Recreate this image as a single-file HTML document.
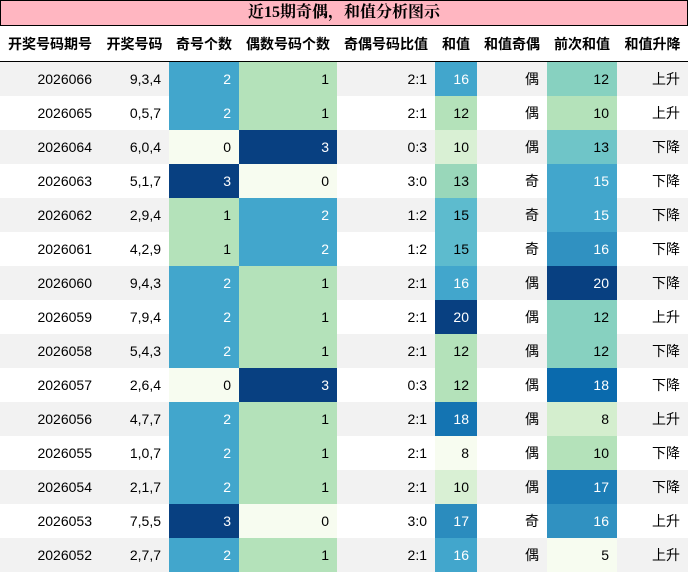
<!DOCTYPE html>
<html><head><meta charset="utf-8">
<style>
body{margin:0;width:688px;height:573px;background:#fff;overflow:hidden;font-family:"Liberation Sans","Noto Sans CJK SC",sans-serif;}
#title{position:absolute;left:0;top:0;width:686px;height:24px;background:#ffb6c1;border:1px solid #000;text-align:center;font:bold 16px "Liberation Serif","Noto Serif CJK SC",serif;line-height:24px;}
.h{position:absolute;top:26px;height:35px;line-height:37px;font-weight:bold;font-size:14px;text-align:center;color:#000}
#hline{position:absolute;left:0;top:61px;width:688px;height:1px;background:#000}
.c{position:absolute;height:34px;line-height:34px;font-size:14px;text-align:right;box-sizing:border-box;padding-right:8px;color:#000}
</style></head><body>
<div id="title">近15期奇偶，和值分析图示</div>
<div id="hline"></div>
<div id="t"></div>
<script>
const periods=["2026066","2026065","2026064","2026063","2026062","2026061","2026060","2026059","2026058","2026057","2026056","2026055","2026054","2026053","2026052"];
const draws=["9,3,4","0,5,7","6,0,4","5,1,7","2,9,4","4,2,9","9,4,3","7,9,4","5,4,3","2,6,4","4,7,7","1,0,7","2,1,7","7,5,5","2,7,7"];
const oddCounts=[2,2,0,3,1,1,2,2,2,0,2,2,2,3,2];
const evenCounts=[1,1,3,0,2,2,1,1,1,3,1,1,1,0,1];
const ratios=["2:1","2:1","0:3","3:0","1:2","1:2","2:1","2:1","2:1","0:3","2:1","2:1","2:1","3:0","2:1"];
const sums=[16,12,10,13,15,15,16,20,12,12,18,8,10,17,16];
const sumParity=["偶","偶","偶","奇","奇","奇","偶","偶","偶","偶","偶","偶","偶","奇","偶"];
const prevSums=[12,10,13,15,15,16,20,12,12,18,8,10,17,16,5];
const trend=["上升","上升","下降","下降","下降","下降","下降","上升","下降","下降","上升","下降","下降","上升","上升"];
const headers=["开奖号码期号","开奖号码","奇号个数","偶数号码个数","奇偶号码比值","和值","和值奇偶","前次和值","和值升降"];
const colX=[0,100,169,239,337,435,477,547,617,688];
const stops=["#f7fcf0","#e0f3db","#ccebc5","#a8ddb5","#7bccc4","#4eb3d3","#2b8cbe","#0868ac","#084081"];
function hex(h){return [1,3,5].map(i=>parseInt(h.substr(i,2),16));}
function gnbu(t){t=Math.max(0,Math.min(1,t));const p=t*8,i=Math.min(7,Math.floor(p)),f=p-i;const a=hex(stops[i]),b=hex(stops[i+1]);return "rgb("+a.map((v,k)=>Math.round(v+(b[k]-v)*f)).join(",")+")";}
const t=document.getElementById('t');
headers.forEach((h,j)=>{const d=document.createElement('div');d.className='h';


d.style.left=colX[j]+'px';d.style.width=(colX[j+1]-colX[j])+'px';d.textContent=h;t.appendChild(d);});
const cols=[periods,draws,oddCounts,evenCounts,ratios,sums,sumParity,prevSums,trend];
const heat={2:[0,3],3:[0,3],5:[Math.min(...sums),Math.max(...sums)],7:[Math.min(...prevSums),Math.max(...prevSums)]};
periods.forEach((p,i)=>{const y=62+i*34;const bg=i%2==0?"#f2f2f2":"#fff";
const r=document.createElement('div');r.className='c';r.style.left='0';r.style.top=y+'px';r.style.width='688px';r.style.background=bg;


t.appendChild(r);
cols.forEach((c,j)=>{const d=document.createElement('div');d.className='c';


d.style.left=colX[j]+'px';d.style.top=y+'px';d.style.width=(colX[j+1]-colX[j])+'px';d.textContent=c[i];
if(heat[j]){const [mn,mx]=heat[j];const v=(c[i]-mn)/(mx-mn);d.style.background=gnbu(v);if(v>0.6)d.style.color='#fff';}
t.appendChild(d);});});
</script>
</body></html>
